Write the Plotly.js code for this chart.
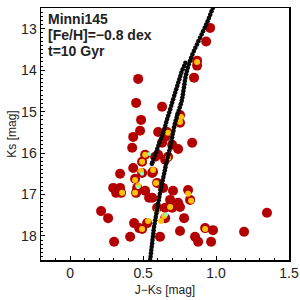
<!DOCTYPE html>
<html>
<head>
<meta charset="utf-8">
<script src="https://cdn.plot.ly/plotly-3.0.1.min.js"></script>
<style>html,body{margin:0;padding:0;background:#fff;}#chart{width:300px;height:300px;}</style>
</head>
<body>
<div id="chart"></div>
<script>
// Observed stars (J-Ks, Ks)
var starJK = [0.466,0.452,0.486,0.479,0.432,0.425,0.959,0.932,0.870,0.870,0.849,0.630,0.753,0.753,0.603,0.664,0.651,0.630,0.699,0.740,0.836,0.671,0.603,0.514,0.342,0.432,0.493,0.445,0.493,0.562,0.459,0.295,0.342,0.315,0.349,0.452,0.514,0.541,0.212,0.260,0.568,0.582,0.651,0.596,0.637,0.705,0.808,0.822,0.740,0.685,0.562,0.596,0.651,0.699,0.301,0.411,0.438,0.527,0.493,0.473,0.651,0.753,0.781,0.616,0.753,0.856,0.877,0.925,0.979,0.966,1.192,1.349];
var starKs = [14.21,14.79,15.20,15.46,15.61,15.87,12.98,13.31,13.77,13.89,14.18,14.88,15.08,15.27,15.49,15.49,15.61,15.75,15.80,15.90,15.75,16.09,16.04,16.04,16.50,16.36,16.21,16.62,16.48,16.48,16.84,16.84,16.84,16.96,16.96,16.96,16.91,17.08,17.40,17.57,16.45,16.09,16.16,16.72,16.84,16.91,16.89,17.13,17.20,17.13,17.08,17.32,17.32,17.32,18.14,18.02,17.69,17.69,17.83,17.81,17.57,17.30,17.57,18.02,17.88,18.02,18.14,17.81,17.86,18.14,17.90,17.44];
// Secondary (yellow) measurements
var yelJK = [0.870,0.760,0.753,0.671,0.671,0.514,0.493,0.445,0.486,0.466,0.356,0.445,0.568,0.589,0.808,0.596,0.644,0.534,0.493,0.925,0.623,0.685,0.829];
var yelKs = [13.80,15.13,15.25,15.51,16.12,16.04,16.21,16.65,16.43,16.79,16.96,16.96,16.41,16.72,16.98,17.40,17.52,17.64,17.83,17.83,17.64,17.30,17.15];
// Tertiary (cyan) measurements
var cyaJK = [0.541,0.493,0.466,0.658];
var cyaKs = [16.02,16.50,16.82,17.49];
// Isochrone, RGB branch
var isoAJK = [0.978,0.969,0.960,0.951,0.942,0.932,0.922,0.911,0.901,0.890,0.879,0.869,0.858,0.848,0.838,0.829,0.821,0.813,0.806,0.800,0.795,0.790,0.786,0.783,0.780,0.776,0.773,0.769,0.765,0.758,0.751,0.744,0.737,0.730,0.723,0.717,0.712,0.708,0.703,0.699,0.695,0.690,0.686,0.680,0.674,0.669,0.663,0.658,0.653,0.649,0.644,0.639,0.634,0.629,0.625,0.620,0.615,0.611,0.607,0.603,0.599,0.595,0.591,0.587,0.583,0.579,0.575,0.572,0.570,0.567,0.564,0.562,0.559,0.556,0.554,0.551,0.548];
var isoAKs = [12.50,12.58,12.66,12.74,12.82,12.90,12.98,13.06,13.14,13.22,13.30,13.38,13.46,13.54,13.62,13.70,13.78,13.86,13.94,14.02,14.10,14.18,14.26,14.34,14.42,14.50,14.58,14.66,14.74,14.82,14.90,14.98,15.06,15.14,15.22,15.30,15.38,15.46,15.54,15.62,15.70,15.78,15.86,15.94,16.02,16.10,16.18,16.26,16.34,16.42,16.50,16.58,16.66,16.74,16.82,16.90,16.98,17.06,17.14,17.22,17.30,17.38,17.46,17.54,17.62,17.70,17.78,17.86,17.94,18.02,18.10,18.18,18.26,18.34,18.42,18.50,18.58];
// Isochrone, second branch
var isoBJK = [0.790,0.781,0.771,0.762,0.755,0.748,0.741,0.734,0.727,0.720,0.713,0.706,0.699,0.693,0.686,0.679,0.672,0.665,0.658,0.652,0.645,0.638,0.630,0.622,0.613,0.605,0.597,0.589,0.580,0.572,0.564,0.560];
var isoBKs = [13.82,13.90,13.98,14.06,14.14,14.22,14.30,14.38,14.46,14.54,14.62,14.70,14.78,14.86,14.94,15.02,15.10,15.18,15.26,15.34,15.42,15.50,15.58,15.66,15.74,15.82,15.90,15.98,16.06,16.14,16.22,16.26];
var xTickVals = [0, 0.5, 1.0, 1.5];
var xTickText = ['0', '0.5', '1.0', '1.5'];
var yTickVals = [13, 14, 15, 16, 17, 18];
var labels = ['Minni145', '[Fe/H]=\u22120.8 dex', 't=10 Gyr'];

var traces = [
  {x: starJK, y: starKs, type: 'scatter', mode: 'markers', hoverinfo: 'skip',
   marker: {size: 10, color: '#b30000', line: {width: 0}}},
  {x: yelJK, y: yelKs, type: 'scatter', mode: 'markers', hoverinfo: 'skip',
   marker: {size: 6, color: '#ffc20e', line: {width: 0}}},
  {x: cyaJK, y: cyaKs, type: 'scatter', mode: 'markers', hoverinfo: 'skip',
   marker: {size: 4, color: '#7fffd4', line: {width: 0}}},
  {x: isoAJK, y: isoAKs, type: 'scatter', mode: 'markers', hoverinfo: 'skip',
   marker: {size: 4.6, color: '#0a0a0a', line: {width: 0}}},
  {x: isoBJK, y: isoBKs, type: 'scatter', mode: 'markers', hoverinfo: 'skip',
   marker: {size: 4.6, color: '#0a0a0a', line: {width: 0}}}
];

var ann = labels.map(function (t, i) {
  return {text: t, xref: 'paper', yref: 'paper', x: 0.022, y: [0.956, 0.892, 0.828][i],
    xanchor: 'left', yanchor: 'middle', showarrow: false,
    font: {family: 'Liberation Sans, Arial, sans-serif', size: 14, color: '#222', weight: 'bold'}};
});

var axisFont = {family: 'Liberation Sans, Arial, sans-serif', size: 14, color: '#222'};
var layout = {
  width: 300, height: 300,
  margin: {l: 41, r: 11, t: 8, b: 40},
  paper_bgcolor: '#fff', plot_bgcolor: '#fff',
  showlegend: false,
  xaxis: {range: [-0.2, 1.5], tickvals: xTickVals, ticktext: xTickText,
    ticks: 'inside', ticklen: 4, tickwidth: 1, tickcolor: '#000',
    showline: true, linecolor: '#000', linewidth: 1.5, mirror: true,
    showgrid: false, zeroline: false, tickfont: axisFont,
    minor: {dtick: 0.1, ticks: 'inside', ticklen: 2, tickcolor: '#000', showgrid: false},
    title: {text: 'J\u2212Ks [mag]', font: {family: 'Liberation Sans, Arial, sans-serif', size: 12, color: '#222'}, standoff: 5}},
  yaxis: {range: [18.58, 12.5], tickvals: yTickVals,
    ticks: 'inside', ticklen: 4, tickwidth: 1, tickcolor: '#000',
    showline: true, linecolor: '#000', linewidth: 1.5, mirror: true,
    showgrid: false, zeroline: false, tickfont: axisFont,
    minor: {dtick: 0.1, ticks: 'inside', ticklen: 2, tickcolor: '#000', showgrid: false},
    title: {text: 'Ks [mag]', font: {family: 'Liberation Sans, Arial, sans-serif', size: 12, color: '#222'}, standoff: 2}},
  annotations: ann
};
Plotly.newPlot('chart', traces, layout, {staticPlot: true, displayModeBar: false});
</script>
</body>
</html>
